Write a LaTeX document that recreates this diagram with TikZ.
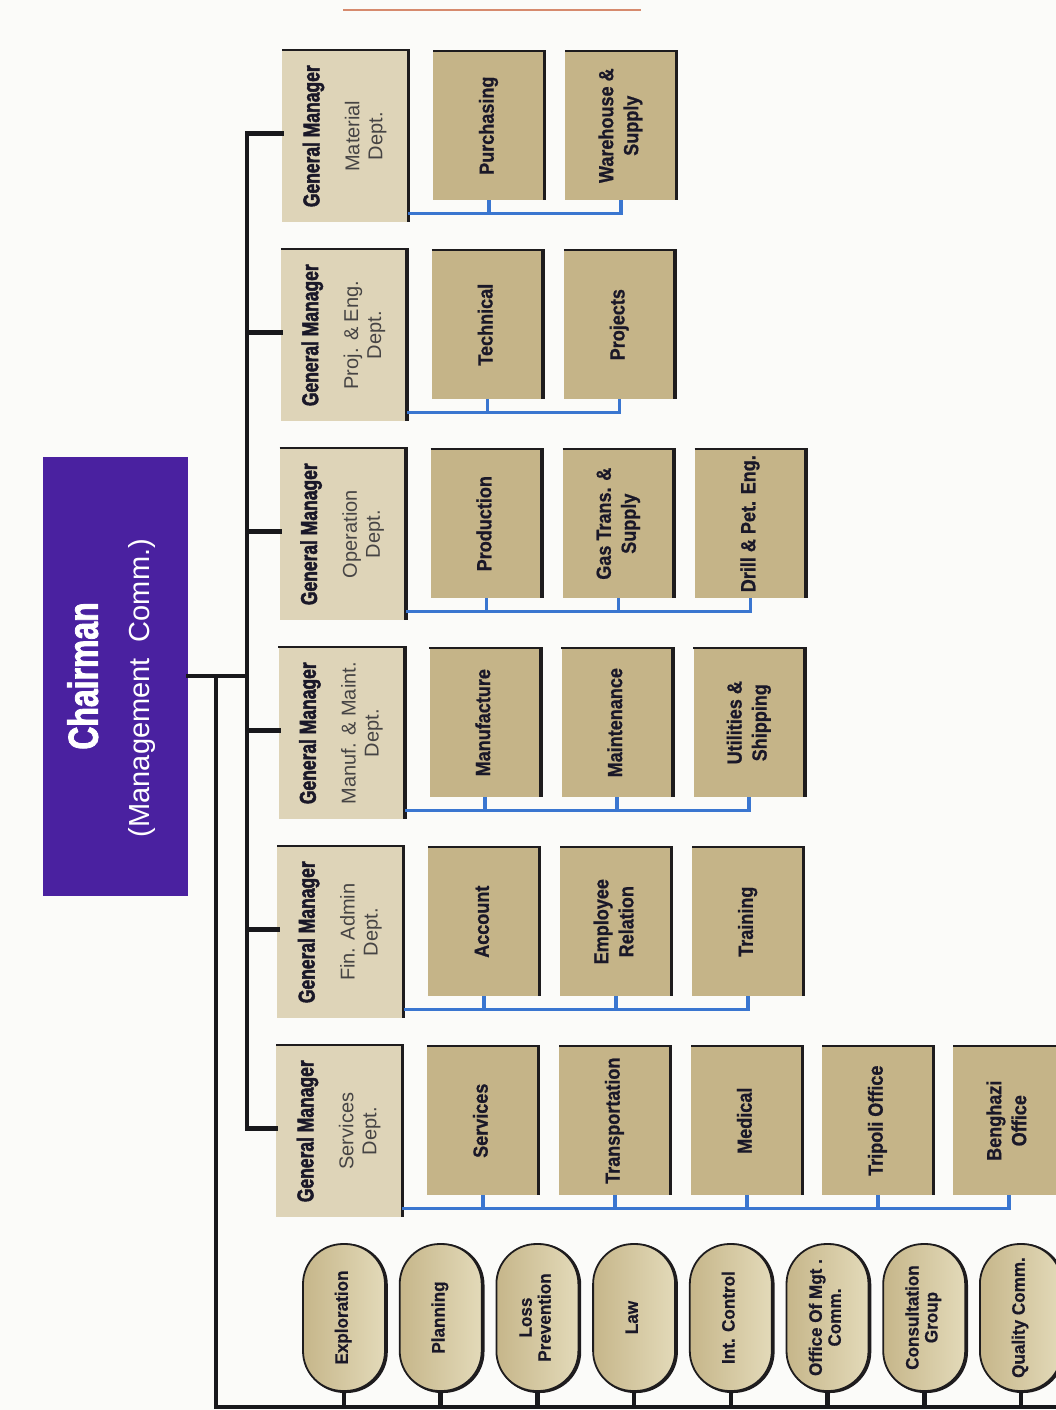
\documentclass[tikz,border=0pt]{standalone}
\usepackage{fontspec}
\usepackage{graphicx}
\setmainfont{Liberation Sans}
\newfontfamily\heavyfont[FakeStretch=0.76,FakeBold=2]{Liberation Sans}
\newfontfamily\subfont[FakeStretch=0.88,FakeBold=0.8]{Liberation Sans}
\newfontfamily\pillfont[FakeStretch=0.95,FakeBold=0.6]{Liberation Sans}
\newfontfamily\deptfont{Liberation Sans}

\definecolor{bgcol}{RGB}{251,251,249}
\definecolor{chairpurple}{RGB}{74,33,160}
\definecolor{gmfill}{RGB}{222,212,184}
\definecolor{subfill}{RGB}{197,180,136}
\definecolor{pillfill}{RGB}{227,218,185}
\definecolor{pillshade}{RGB}{198,182,138}
\definecolor{edgecol}{RGB}{30,28,30}
\definecolor{linecol}{RGB}{24,24,28}
\definecolor{buscol}{RGB}{58,118,208}
\definecolor{textcol}{RGB}{26,24,40}
\definecolor{deptcol}{RGB}{70,68,68}
\definecolor{rulecol}{RGB}{214,138,110}

% text set upright, read from bottom to top
\newcommand\vt[1]{\rotatebox{90}{\begin{tabular}{@{}c@{}}#1\end{tabular}}}

\tikzset{
  trunk/.style={line width=4.8pt, draw=linecol, line cap=rect},
  stub/.style={line width=4.6pt, draw=linecol},
  bus/.style={line width=3.6pt, draw=buscol},
  chairbox/.style={fill=chairpurple, minimum width=145pt, minimum height=439pt, inner sep=0pt},
  gmbox/.style={fill=gmfill, minimum width=126pt, minimum height=172pt, inner sep=0pt, anchor=north west},
  subbox/.style={fill=subfill, minimum width=111pt, minimum height=149pt, inner sep=0pt,
    anchor=north west, text=textcol, font=\subfont\bfseries\fontsize{20.5}{25}\selectfont},
  pill/.style={rounded corners=40pt, minimum width=82pt, minimum height=147pt, inner sep=0pt,
    draw=edgecol, line width=1.8pt, left color=pillshade, middle color=pillfill, right color=pillfill,
    preaction={draw=edgecol, line width=2.4pt, transform canvas={xshift=1.6pt,yshift=-0.8pt}},
    text=textcol, font=\pillfont\bfseries\fontsize{18}{19}\selectfont},
  gmhead/.style={inner sep=0pt, text=textcol, font=\heavyfont\bfseries\fontsize{23}{26}\selectfont},
  gmdept/.style={inner sep=0pt, text=deptcol, font=\deptfont\fontsize{20}{23}\selectfont},
  topedge/.style={draw=edgecol, line width=1.3pt},
  sideedge/.style={draw=edgecol, line width=3.6pt},
}

\begin{document}
\begin{tikzpicture}[x=1pt,y=-1pt]
\path[use as bounding box, fill=bgcol] (0,0) rectangle (1056,1410);

% thin rule along the top
\draw[rulecol, line width=1.6pt] (343,10) -- (641,10);

% chairman
\node[chairbox] (chair) at (115.5,676) {};
\node[inner sep=0pt, text=white, font=\heavyfont\bfseries\fontsize{42}{44}\selectfont] (chairname) at (89,676) {\vt{Chairman}};
\node[inner sep=0pt, text=white, font=\deptfont\fontsize{29}{32}\selectfont] (chaircomm) at (143,688) {\vt{(Management\ \ Comm.)}};

% general managers
\node[gmbox] (gm0) at (282.0,50) {};
\node[gmbox] (gm1) at (280.8,249) {};
\node[gmbox] (gm2) at (279.6,448) {};
\node[gmbox] (gm3) at (278.4,647) {};
\node[gmbox] (gm4) at (277.2,846) {};
\node[gmbox] (gm5) at (276.0,1045) {};

\foreach \g/\d in {gm0/Material\\Dept., gm1/Proj. \& Eng.\\Dept., gm2/Operation\\Dept.,
                   gm3/Manuf. \& Maint.\\Dept., gm4/Fin. Admin\\Dept., gm5/Services\\Dept.}{
  \node[gmhead] (\g-head) at ([xshift=-31pt]\g.center) {\vt{General Manager}};
  \node[gmdept] (\g-dept) at ([xshift=21pt]\g.center) {\vt{\d}};
}

% departments under each general manager
\node[subbox] (s0a) at (433.0,51) {\vt{Purchasing}};
\node[subbox] (s0b) at (565.0,51) {\vt{Warehouse \&\\Supply}};

\node[subbox] (s1a) at (431.8,250) {\vt{Technical}};
\node[subbox] (s1b) at (563.8,250) {\vt{Projects}};

\node[subbox] (s2a) at (430.6,449) {\vt{Production}};
\node[subbox] (s2b) at (562.6,449) {\vt{Gas Trans. \&\\Supply}};
\node[subbox] (s2c) at (694.6,449) {\vt{Drill \& Pet. Eng.}};

\node[subbox] (s3a) at (429.4,648) {\vt{Manufacture}};
\node[subbox] (s3b) at (561.4,648) {\vt{Maintenance}};
\node[subbox] (s3c) at (693.4,648) {\vt{Utilities \&\\Shipping}};

\node[subbox] (s4a) at (428.2,847) {\vt{Account}};
\node[subbox] (s4b) at (560.2,847) {\vt{Employee\\Relation}};
\node[subbox] (s4c) at (692.2,847) {\vt{Training}};

\node[subbox] (s5a) at (427.0,1046) {\vt{Services}};
\node[subbox] (s5b) at (559.0,1046) {\vt{Transportation}};
\node[subbox] (s5c) at (691.0,1046) {\vt{Medical}};
\node[subbox] (s5d) at (822.0,1046) {\vt{Tripoli Office}};
\node[subbox] (s5e) at (953.0,1046) {\vt{Benghazi\\Office}};

% shadowed top and right edges of the boxes
\foreach \n in {gm0,gm1,gm2,gm3,gm4,gm5,s0a,s0b,s1a,s1b,s2a,s2b,s2c,s3a,s3b,s3c,s4a,s4b,s4c,s5a,s5b,s5c,s5d,s5e}{
  \draw[topedge] (\n.north west) -- (\n.north east);
  \draw[sideedge] ([yshift=0.6pt]\n.north east) -- (\n.south east);
}

% staff units along the bottom
\node[pill] (p0) at (344.0,1317.5) {\vt{Exploration}};
\node[pill] (p1) at (440.7,1317.5) {\vt{Planning}};
\node[pill] (p2) at (537.4,1317.5) {\vt{Loss\\Prevention}};
\node[pill] (p3) at (634.1,1317.5) {\vt{Law}};
\node[pill] (p4) at (730.8,1317.5) {\vt{Int. Control}};
\node[pill] (p5) at (827.5,1317.5) {\vt{Office Of Mgt .\\Comm.}};
\node[pill] (p6) at (924.2,1317.5) {\vt{Consultation\\Group}};
\node[pill] (p7) at (1020.9,1317.5) {\vt{Quality Comm.}};

% blue buses from each general manager to its departments
\foreach \g/\last/\others in {gm0/s0b/{s0a}, gm1/s1b/{s1a}, gm2/s2c/{s2a,s2b}, gm3/s3c/{s3a,s3b},
                              gm4/s4c/{s4a,s4b}, gm5/s5e/{s5a,s5b,s5c,s5d}}{
  \coordinate (\g-bus) at ([yshift=9pt]\g.south east);
  \draw[bus] (\g-bus) -| (\last.south);
  \foreach \s in \others { \draw[bus] (\s.south) -- (\s.south |- \g-bus); }
}

% black trunk lines
\coordinate (jA) at (247,676);
\coordinate (jB) at (216,676);
\coordinate (base) at (216,1407);
\coordinate (baseR) at (1062,1407);
\draw[trunk] (chair.east) -- (jA);
\draw[trunk] ([yshift=3pt]gm0.west) -| (jA) |- ([yshift=3pt]gm5.west);
\foreach \g in {gm1,gm2,gm3,gm4}{ \draw[trunk] ([yshift=3pt]\g.west -| jA) -- ([yshift=3pt]\g.west); }
\draw[trunk] (jB) -- (base) -- (baseR);
\foreach \p in {p0,p1,p2,p3,p4,p5,p6,p7}{ \draw[stub] (\p.south) -- (\p.south |- base); }
\end{tikzpicture}
\end{document}
